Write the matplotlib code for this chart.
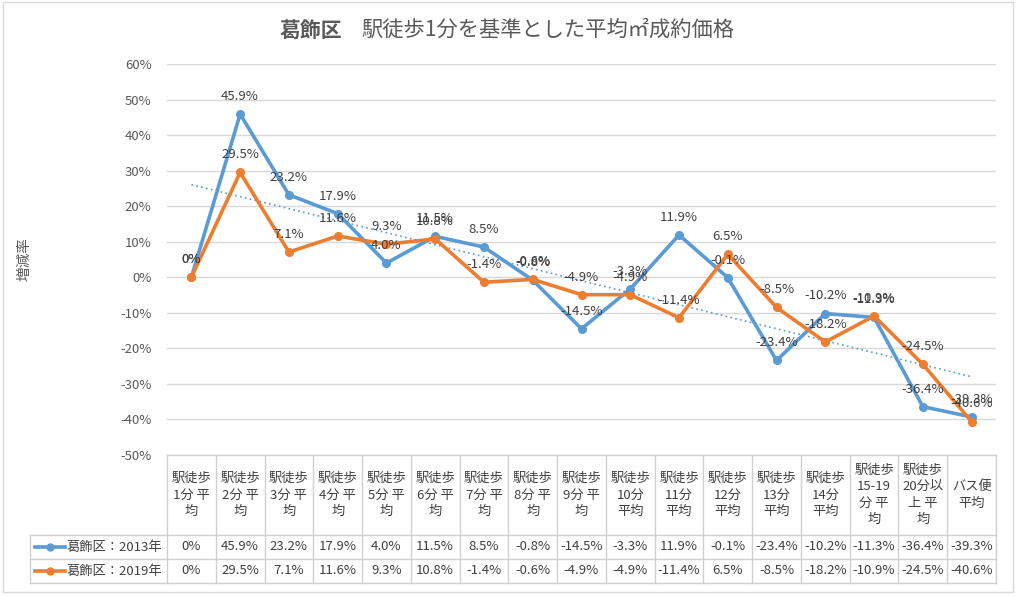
import matplotlib
matplotlib.use("Agg")
import matplotlib.pyplot as plt
import numpy as np
from matplotlib.patches import Rectangle
from matplotlib.lines import Line2D

plt.rcParams['font.family'] = ['Noto Sans CJK JP', 'DejaVu Sans']

categories = ["駅徒歩\n1分 平\n均", "駅徒歩\n2分 平\n均", "駅徒歩\n3分 平\n均", "駅徒歩\n4分 平\n均",
              "駅徒歩\n5分 平\n均", "駅徒歩\n6分 平\n均", "駅徒歩\n7分 平\n均", "駅徒歩\n8分 平\n均",
              "駅徒歩\n9分 平\n均", "駅徒歩\n10分\n平均", "駅徒歩\n11分\n平均", "駅徒歩\n12分\n平均",
              "駅徒歩\n13分\n平均", "駅徒歩\n14分\n平均", "駅徒歩\n15-19\n分 平\n均", "駅徒歩\n20分以\n上 平\n均",
              "バス便\n平均"]
series_2013 = [0, 45.9, 23.2, 17.9, 4.0, 11.5, 8.5, -0.8, -14.5, -3.3, 11.9, -0.1, -23.4, -10.2, -11.3, -36.4, -39.3]
series_2019 = [0, 29.5, 7.1, 11.6, 9.3, 10.8, -1.4, -0.6, -4.9, -4.9, -11.4, 6.5, -8.5, -18.2, -10.9, -24.5, -40.6]
labels_2013 = ["0%", "45.9%", "23.2%", "17.9%", "4.0%", "11.5%", "8.5%", "-0.8%", "-14.5%", "-3.3%", "11.9%", "-0.1%", "-23.4%", "-10.2%", "-11.3%", "-36.4%", "-39.3%"]
labels_2019 = ["0%", "29.5%", "7.1%", "11.6%", "9.3%", "10.8%", "-1.4%", "-0.6%", "-4.9%", "-4.9%", "-11.4%", "6.5%", "-8.5%", "-18.2%", "-10.9%", "-24.5%", "-40.6%"]
series_names = ["葛飾区：2013年", "葛飾区：2019年"]
yticks = [60, 50, 40, 30, 20, 10, 0, -10, -20, -30, -40, -50]

BLUE = "#5B9BD5"
ORANGE = "#ED7D31"
TXT = "#595959"
GRID = "#D9D9D9"

W, H = 1024, 596
fig = plt.figure(figsize=(W / 100, H / 100), dpi=100)

def fx(px):
    return px / W

def fy(py):
    return 1 - py / H

# outer border
fig.patches.append(Rectangle((fx(3), fy(592)), fx(1013) - fx(3), fy(2) - fy(592),
                             transform=fig.transFigure, fill=False, edgecolor="#D9D9D9", lw=1))

x0, x1 = 167, 996
ax = fig.add_axes([fx(x0), fy(455), fx(x1) - fx(x0), fy(64) - fy(455)])
x = np.arange(1, len(series_2013) + 1)
ax.set_xlim(0.5, len(x) + 0.5)
ax.set_ylim(-50, 60)
ax.set_yticks(yticks)
ax.set_yticklabels([f"{v}%" for v in yticks])
ax.tick_params(axis='y', length=0, labelsize=9.5, labelcolor=TXT, pad=11)
ax.set_xticks([])
for s in ax.spines.values():
    s.set_visible(False)
ax.grid(axis='y', color=GRID, lw=1)
ax.set_axisbelow(True)

ax.plot(x, series_2013, color=BLUE, lw=2.6, marker='o', ms=5.5, zorder=3, solid_joinstyle='round')
ax.plot(x, series_2019, color=ORANGE, lw=2.6, marker='o', ms=5.5, zorder=4, solid_joinstyle='round')

# linear trendline of 2013 series
coef = np.polyfit(x, series_2013, 1)
ax.plot(x, np.polyval(coef, x), color=BLUE, lw=1.2, ls=(0, (1, 2)), zorder=2)

for xi, v, lab in zip(x, series_2013, labels_2013):
    ax.annotate(lab, (xi, v), xytext=(0, 8), textcoords='offset points', ha='center', va='bottom',
                fontsize=9.5, color="#404040", zorder=6)
for xi, v, lab in zip(x, series_2019, labels_2019):
    ax.annotate(lab, (xi, v), xytext=(0, 8), textcoords='offset points', ha='center', va='bottom',
                fontsize=9.5, color="#404040", zorder=6)

ax.set_ylabel("増減率", fontsize=10.5, color=TXT, labelpad=0)
ax.yaxis.set_label_coords((31 - x0) / (x1 - x0), 0.5)

# data table
tab = fig.add_axes([fx(x0), fy(583), fx(x1) - fx(x0), fy(455) - fy(583)])
tab.set_xlim(0.5, len(x) + 0.5)
tab.set_ylim(128, 0)
tab.axis('off')
colw = (x1 - x0) / len(x)
left_edge = 0.5 - (x0 - 30) / colw
lc = "#D0D0D0"
for b in np.arange(0.5, len(x) + 1.0, 1.0):
    tab.add_line(Line2D([b, b], [0, 128], color=lc, lw=1, clip_on=False))
tab.add_line(Line2D([0.5, len(x) + 0.5], [0, 0], color=lc, lw=1, clip_on=False))
for yy in (80, 104, 128):
    tab.add_line(Line2D([left_edge, len(x) + 0.5], [yy, yy], color=lc, lw=1, clip_on=False))
tab.add_line(Line2D([left_edge, left_edge], [80, 128], color=lc, lw=1, clip_on=False))

for xi, cat in zip(x, categories):
    tab.text(xi, 40, cat, ha='center', va='center', fontsize=9.5, color="#404040", linespacing=1.35)

rows = [(labels_2013, BLUE, series_names[0]), (labels_2019, ORANGE, series_names[1])]
for r, (labs, col, name) in enumerate(rows):
    yc = 92 + 24 * r
    for xi, lab in zip(x, labs):
        tab.text(xi, yc, lab, ha='center', va='center', fontsize=9.5, color="#404040")
    lx0 = left_edge + 5 / colw
    lx1 = left_edge + 35 / colw
    tab.add_line(Line2D([lx0, lx1], [yc, yc], color=col, lw=2.6, clip_on=False))
    tab.add_line(Line2D([(lx0 + lx1) / 2], [yc], color=col, marker='o', ms=5, clip_on=False))
    tab.text(left_edge + 37 / colw, yc, name, ha='left', va='center', fontsize=9.5, color="#404040", clip_on=False)

# title
fig.text(fx(342), fy(30), "葛飾区", ha='right', va='center', fontsize=15, fontweight='bold', color=TXT)
fig.text(fx(361), fy(30), "駅徒歩1分を基準とした平均㎡成約価格", ha='left', va='center', fontsize=15.3, color=TXT)

fig.savefig("out.png", dpi=100)
